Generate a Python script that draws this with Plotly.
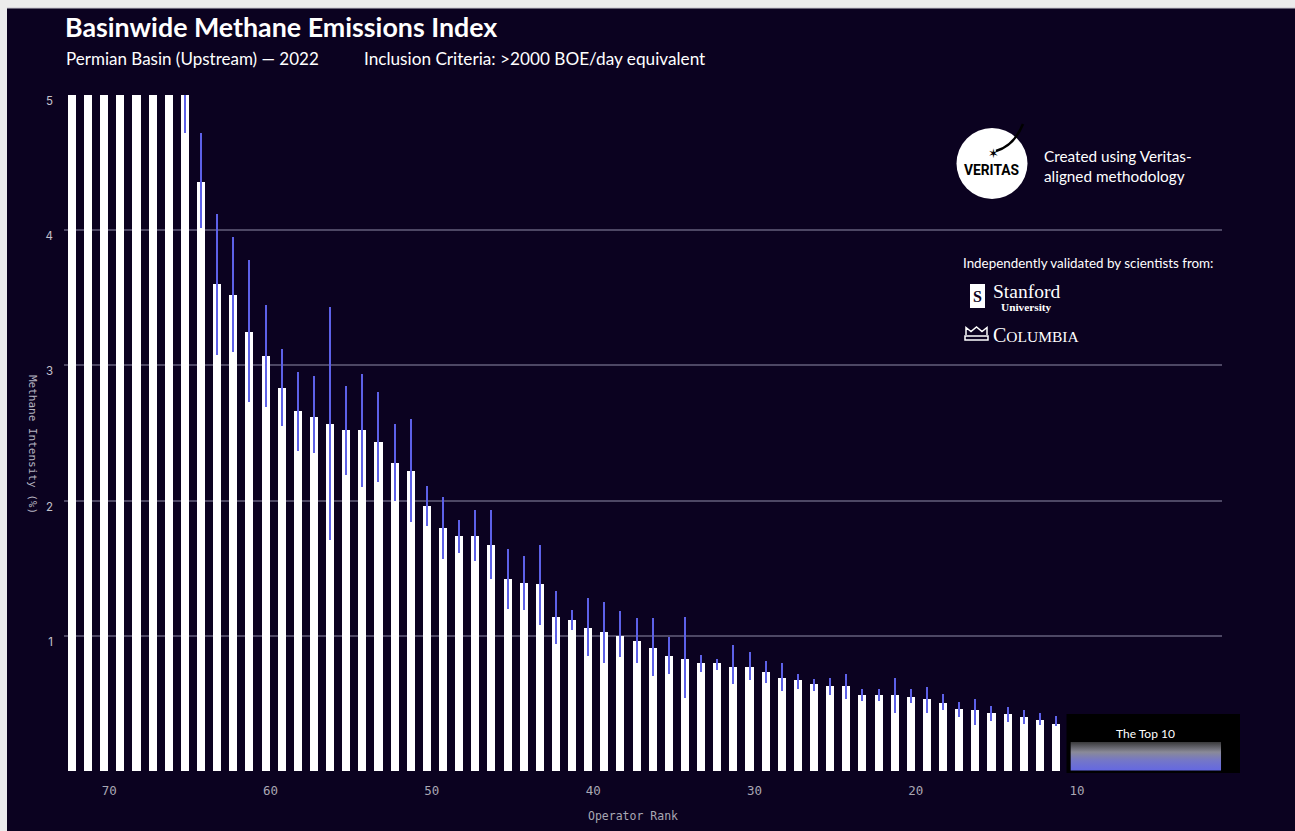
import plotly.graph_objects as go

# Operator ranks (worst to best) and methane intensity (%) with uncertainty bounds
ranks = list(range(72, 10, -1))

intensity = [
    9.6, 8.7, 7.9, 7.1, 6.5, 6.0, 5.6, 5.2,
    4.36, 3.60, 3.52, 3.25, 3.07, 2.83, 2.66, 2.62, 2.57, 2.52,
    2.52, 2.43, 2.28, 2.22, 1.96, 1.80, 1.74, 1.74, 1.67, 1.42,
    1.39, 1.38, 1.14, 1.12, 1.06, 1.03, 1.00, 0.96, 0.91, 0.85,
    0.83, 0.80, 0.80, 0.77, 0.77, 0.73, 0.69, 0.67, 0.64, 0.63,
    0.63, 0.56, 0.56, 0.56, 0.55, 0.53, 0.50, 0.46, 0.45, 0.43,
    0.42, 0.40, 0.38, 0.35,
]

upper = [
    None, None, None, None, None, None, None, 5.60,
    4.72, 4.12, 3.95, 3.78, 3.45, 3.12, 2.95, 2.92, 3.43, 2.85,
    2.94, 2.80, 2.57, 2.60, 2.11, 2.03, 1.86, 1.93, 1.93, 1.64,
    1.59, 1.67, 1.33, 1.19, 1.28, 1.25, 1.18, 1.13, 1.13, 0.99,
    1.14, 0.86, 0.83, 0.93, 0.88, 0.81, 0.80, 0.72, 0.68, 0.69,
    0.72, 0.61, 0.61, 0.69, 0.61, 0.62, 0.57, 0.51, 0.53, 0.48,
    0.47, 0.45, 0.43, 0.41,
]

lower = [
    None, None, None, None, None, None, None, 4.72,
    4.02, 3.08, 3.10, 2.73, 2.69, 2.55, 2.37, 2.35, 1.71, 2.19,
    2.10, 2.14, 2.00, 1.84, 1.81, 1.57, 1.61, 1.55, 1.42, 1.20,
    1.19, 1.08, 0.94, 1.04, 0.85, 0.80, 0.84, 0.80, 0.70, 0.72,
    0.54, 0.73, 0.75, 0.64, 0.67, 0.65, 0.59, 0.61, 0.59, 0.56,
    0.53, 0.52, 0.52, 0.43, 0.50, 0.43, 0.45, 0.40, 0.34, 0.37,
    0.36, 0.35, 0.34, 0.33,
]

x_ticks = [70, 60, 50, 40, 30, 20, 10]
y_ticks = [1, 2, 3, 4, 5]

err_plus = [None if u is None else u - v for u, v in zip(upper, intensity)]
err_minus = [None if l is None else v - l for l, v in zip(lower, intensity)]

BG = "#0b0220"
W, H = 1295, 831
L, R_EDGE, T, B_EDGE = 64, 1222, 95, 771


def px(xp):
    return (xp - L) / (R_EDGE - L)


def py(yp):
    return (B_EDGE - yp) / (B_EDGE - T)


fig = go.Figure()

fig.add_trace(go.Bar(
    x=ranks,
    y=intensity,
    width=0.5,
    marker=dict(color="#ffffff", line=dict(width=0)),
    error_y=dict(
        type="data",
        symmetric=False,
        array=err_plus,
        arrayminus=err_minus,
        color="#5d61e8",
        thickness=2,
        width=0,
    ),
    hoverinfo="skip",
    showlegend=False,
))

# "Top 10" gradient band
fig.add_trace(go.Scatter(
    x=[10.09, 0.77, 0.77, 10.09, 10.09],
    y=[0.003, 0.003, 0.214, 0.214, 0.003],
    mode="none",
    fill="toself",
    fillgradient=dict(
        type="vertical",
        colorscale=[[0, "#6468e2"], [0.35, "#7476c8"], [0.65, "#8a8a98"], [1, "#3a3a3c"]],
    ),
    hoverinfo="skip",
    showlegend=False,
))

shapes = []
# page frame
shapes.append(dict(type="rect", xref="paper", yref="paper",
                   x0=px(0), x1=px(W), y0=py(0), y1=py(8),
                   fillcolor="#ececec", line=dict(width=0), layer="above"))
shapes.append(dict(type="rect", xref="paper", yref="paper",
                   x0=px(0), x1=px(7), y0=py(0), y1=py(H),
                   fillcolor="#ececec", line=dict(width=0), layer="above"))
shapes.append(dict(type="line", xref="paper", yref="paper",
                   x0=px(7), x1=px(W), y0=py(8), y1=py(8),
                   line=dict(color="#c9c7cf", width=1), layer="above"))

# black panel behind the "Top 10" band
shapes.append(dict(type="rect", xref="paper", yref="paper",
                   x0=px(1066.5), x1=px(1240), y0=py(773), y1=py(714),
                   fillcolor="#000000", line=dict(width=0), layer="below"))

# Veritas badge
shapes.append(dict(type="circle", xref="paper", yref="paper",
                   x0=px(956.5), x1=px(1027.5), y0=py(199), y1=py(128),
                   fillcolor="#ffffff", line=dict(width=0), layer="above"))
shapes.append(dict(type="path", xref="paper", yref="paper",
                   path=(f"M {px(996)},{py(151)} Q {px(1014)},{py(146)} {px(1023)},{py(124)}"),
                   line=dict(color="#000000", width=2.5), layer="above"))

# Stanford emblem
shapes.append(dict(type="rect", xref="paper", yref="paper",
                   x0=px(970), x1=px(985), y0=py(308), y1=py(284),
                   fillcolor="#ffffff", line=dict(width=0), layer="above"))

# Columbia crown
crown = (f"M {px(965)},{py(340)} L {px(988)},{py(340)} L {px(988)},{py(336)} L {px(965)},{py(336)} Z "
         f"M {px(966)},{py(335)} L {px(966)},{py(327.5)} L {px(971)},{py(331.5)} L {px(976.5)},{py(327)} "
         f"L {px(982)},{py(331.5)} L {px(987)},{py(327.5)} L {px(987)},{py(335)}")
shapes.append(dict(type="path", xref="paper", yref="paper", path=crown,
                   line=dict(color="#ffffff", width=1.5), layer="above"))

annotations = []


def note(text, x, y, size, color="#ffffff", family="Lato", xanchor="left",
         yanchor="middle", angle=0):
    annotations.append(dict(
        text=text, x=px(x), y=py(y), xref="paper", yref="paper",
        xanchor=xanchor, yanchor=yanchor, showarrow=False, textangle=angle,
        align="left" if xanchor == "left" else "center",
        font=dict(size=size, color=color, family=family),
    ))


note("<b>Basinwide Methane Emissions Index</b>", 63, 27, 26.8)
note("Permian Basin (Upstream) — 2022", 64, 58, 17)
note("Inclusion Criteria: >2000 BOE/day equivalent", 362, 58, 17.2)

note("✶", 993, 153, 13, color="#000000", family="DejaVu Sans", xanchor="center")
note("<b>VERITAS</b>", 991.5, 170, 13.8, color="#000000", family="Roboto", xanchor="center")
note("Created using Veritas-<br>aligned methodology", 1042, 166, 15.3)
note("Independently validated by scientists from:", 961, 263, 13.4)
note("<b>S</b>", 977.5, 296, 16, color=BG, family="Liberation Serif", xanchor="center")
note("Stanford", 991, 291, 19.5, family="Liberation Serif")
note("<b>University</b>", 999, 306.5, 11.3, family="Liberation Serif")
note("C<span style='font-size:15.5px'>OLUMBIA</span>", 991, 335, 20, family="Liberation Serif")

note("The Top 10", 1145, 733.5, 12, family="Lato", xanchor="center")

note("Methane Intensity (%)", 33, 444, 11, color="#b6b4c0",
     family="DejaVu Sans Mono", xanchor="center", angle=90)
note("Operator Rank", 633, 816, 11.5, color="#a9a7b3",
     family="DejaVu Sans Mono", xanchor="center")

fig.update_layout(
    width=W,
    height=H,
    margin=dict(l=L, r=W - R_EDGE, t=T, b=H - B_EDGE, pad=0),
    paper_bgcolor=BG,
    plot_bgcolor=BG,
    bargap=0,
    shapes=shapes,
    annotations=annotations,
    xaxis=dict(
        range=[72.496, 0.709],
        tickvals=x_ticks,
        ticktext=[str(t) for t in x_ticks],
        tickfont=dict(family="DejaVu Sans Mono", size=12.5, color="#a9a7b3"),
        ticklabelshift=-5,
        ticklabelstandoff=10,
        showgrid=False,
        zeroline=False,
        showline=False,
        ticks="",
    ),
    yaxis=dict(
        range=[0, 5],
        tickvals=y_ticks,
        ticktext=[str(t) for t in y_ticks],
        tickfont=dict(family="Inter", size=11.5, color="#c4c2cc"),
        ticklabelshift=6,
        ticklabelstandoff=10,
        showgrid=True,
        gridcolor="#4d4764",
        gridwidth=1.6,
        zeroline=False,
        showline=False,
        ticks="",
    ),
)

fig.write_html("out.html")
